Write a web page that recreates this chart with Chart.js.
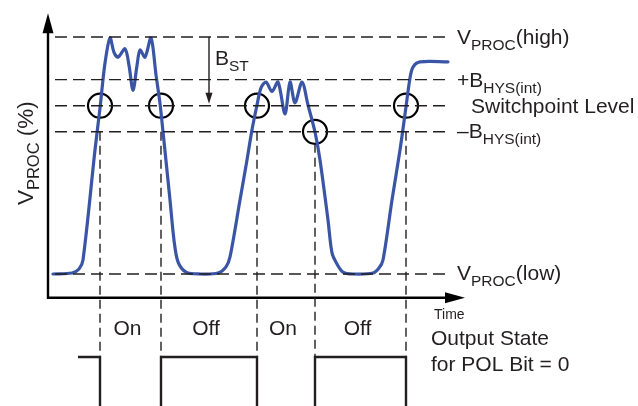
<!DOCTYPE html>
<html><head><meta charset="utf-8">
<script src="https://cdn.jsdelivr.net/npm/chart.js@4.4.1/dist/chart.umd.min.js"></script>
<style>html,body{margin:0;padding:0;background:#fff;overflow:hidden}canvas{display:block}</style>
</head><body>
<canvas id="c" width="638" height="406" style="width:638px;height:406px"></canvas>
<script>
// ---- data (time in arbitrary units, level in % of VPROC range) ----
const curveTime  = [5, 24, 31, 35, 47, 52, 57, 62, 66, 70, 77, 81, 85, 89, 92, 97, 103, 108, 112, 115, 122, 126, 130, 138, 152, 170, 178, 182, 192, 199, 204, 209, 213, 218, 224, 230, 237, 242, 247, 254, 260, 267, 272, 280, 284, 289, 295, 305, 325, 331, 335, 344, 352, 358, 362, 365, 372, 400];
const curveLevel = [0, 0.4, 2.1, 5.9, 52.3, 70.0, 89.0, 99.6, 93.5, 91.5, 95.0, 88.0, 77.5, 88.0, 94.5, 91.5, 99.6, 84.0, 72.0, 60.0, 31.2, 14.3, 5.1, 0.8, 0, 0.4, 3.0, 7.2, 31.2, 48.1, 60.8, 71.3, 78.5, 81.0, 77.0, 81.0, 67.5, 81.0, 72.2, 81.0, 71.3, 59.9, 48.1, 22.8, 8.9, 4.2, 0.8, 0, 0.4, 2.5, 5.9, 31.2, 52.3, 70.5, 82.7, 87.3, 89.5, 89.5];
const levelValues = [100, 82, 71, 60, 0];          // VPROC(high), +BHYS, Switchpoint, -BHYS, VPROC(low)
const switchTimes = [52, 113, 209, 267, 358];
const switchLevels = [71, 71, 71, 60, 71];
const outputStates = ['On', 'Off', 'On', 'Off'];
const outputLevels = [-35, -60, -35, -60, -35, -60]; // output trace level before/after each switch
const outputStart = 30;
const axisLevel = -10;
const bstTop = 100, bstBottom = 71;

// ---- layout constants ----
const X_MIN = -48, X_MAX = 590, Y_MIN = -55.7, Y_MAX = 115.6;
const INK = '#231f20';
const BLUE = '#3a55a5';
const FONT = '"Liberation Sans", Arial, Helvetica, sans-serif';

const lineDash = (y, dash) => ({
  type: 'line', data: [{x: 7, y}, {x: 400, y}], borderColor: INK, borderWidth: 1.4,
  borderDash: dash, pointRadius: 0, tension: 0
});

const datasets = [];
levelValues.forEach(v => datasets.push(lineDash(v, [12, 6])));
// vertical dashed lines from hysteresis band down to output trace
switchTimes.forEach((t, i) => datasets.push({
  type: 'line', data: [{x: t, y: i === 3 ? 55 : 60}, {x: t, y: outputLevels[0]}],
  borderColor: INK, borderWidth: 1.4, borderDash: [9, 5], pointRadius: 0
}));
// output square wave
const sq = [{x: outputStart, y: outputLevels[0]}];
switchTimes.forEach((t, i) => { sq.push({x: t, y: outputLevels[i]}); sq.push({x: t, y: outputLevels[i + 1]}); });
datasets.push({type: 'line', data: sq, borderColor: INK, borderWidth: 2.4, pointRadius: 0, borderJoinStyle: 'miter'});
// axes
datasets.push({type: 'line', data: [{x: 0, y: 103}, {x: 0, y: axisLevel}, {x: 405, y: axisLevel}], borderColor: '#000', borderWidth: 2.4, pointRadius: 0, borderJoinStyle: 'miter'});
// BST arrow shaft
datasets.push({type: 'line', data: [{x: 161, y: bstTop}, {x: 161, y: bstBottom + 3}], borderColor: INK, borderWidth: 1.4, pointRadius: 0});
// process curve
datasets.push({
  type: 'line', data: curveTime.map((t, i) => ({x: t, y: curveLevel[i]})),
  borderColor: BLUE, borderWidth: 3.2, pointRadius: 0, tension: 0.3, borderCapStyle: 'round', borderJoinStyle: 'round'
});
// switch circles
datasets.push({
  type: 'scatter', data: switchTimes.map((t, i) => ({x: t, y: switchLevels[i]})),
  pointRadius: 12, pointBorderWidth: 2.2, pointBorderColor: '#000', pointBackgroundColor: 'rgba(0,0,0,0)', showLine: false
});

function rich(ctx, x, y, parts, size, subSize, subDy, align) {
  let w = 0;
  parts.forEach(p => { ctx.font = (p.sub ? subSize : size) + 'px ' + FONT; w += ctx.measureText(p.t).width; });
  let cx = align === 'center' ? x - w / 2 : x;
  parts.forEach(p => {
    ctx.font = (p.sub ? subSize : size) + 'px ' + FONT;
    ctx.fillText(p.t, cx, y + (p.sub ? subDy : 0));
    cx += ctx.measureText(p.t).width;
  });
}

const annot = {
  id: 'annot',
  afterDatasetsDraw(chart) {
    const {ctx, scales: {x, y}} = chart;
    const X = v => x.getPixelForValue(v), Y = v => y.getPixelForValue(v);
    ctx.save();
    ctx.fillStyle = '#000';
    // y axis arrow
    let ax = X(0), ay = Y(110);
    ctx.beginPath(); ctx.moveTo(ax, ay); ctx.lineTo(ax - 5.5, ay + 20); ctx.lineTo(ax + 5.5, ay + 20); ctx.closePath(); ctx.fill();
    // x axis arrow
    ax = X(417); ay = Y(axisLevel);
    ctx.beginPath(); ctx.moveTo(ax, ay); ctx.lineTo(ax - 20, ay - 5.5); ctx.lineTo(ax - 20, ay + 5.5); ctx.closePath(); ctx.fill();
    // BST arrow head
    ax = X(161); ay = Y(bstBottom + 0.8);
    ctx.fillStyle = INK;
    ctx.beginPath(); ctx.moveTo(ax, ay); ctx.lineTo(ax - 3.5, ay - 11); ctx.lineTo(ax + 3.5, ay - 11); ctx.closePath(); ctx.fill();

    ctx.fillStyle = INK;
    ctx.textBaseline = 'alphabetic';
    const lx = X(409);
    rich(ctx, lx, Y(97), [{t: 'V'}, {t: 'PROC', sub: 1}, {t: '(high)'}], 21, 15.5, 6);
    rich(ctx, lx, Y(78.9), [{t: '+B'}, {t: 'HYS(int)', sub: 1}], 21, 15.5, 6);
    rich(ctx, X(423), Y(67.9), [{t: 'Switchpoint Level'}], 21, 15, 6);
    rich(ctx, lx, Y(57.4), [{t: '\u2013B'}, {t: 'HYS(int)', sub: 1}], 21, 15.5, 6);
    rich(ctx, lx, Y(-2.5), [{t: 'V'}, {t: 'PROC', sub: 1}, {t: '(low)'}], 21, 15.5, 6);
    rich(ctx, X(167), Y(88.2), [{t: 'B'}, {t: 'ST', sub: 1}], 21, 15.5, 6);
    rich(ctx, X(386), Y(-19), [{t: 'Time'}], 14, 14, 0);
    rich(ctx, X(383), Y(-30), [{t: 'Output State'}], 21, 15, 0);
    rich(ctx, X(383), Y(-40.9), [{t: 'for POL Bit = 0'}], 21, 15, 0);
    outputStates.forEach((s, i) => {
      rich(ctx, X((switchTimes[i] + switchTimes[i + 1]) / 2) - 3, Y(-25.7), [{t: s}], 21, 15, 0, 'center');
    });
    // y title
    ctx.translate(X(-15), Y(51));
    ctx.rotate(-Math.PI / 2);
    rich(ctx, 0, 0, [{t: 'V'}, {t: 'PROC', sub: 1}, {t: ' (%)'}], 22.5, 16.5, 6, 'center');
    ctx.restore();
  }
};

new Chart(document.getElementById('c'), {
  type: 'line',
  data: {datasets},
  options: {
    responsive: false, animation: false, events: [],
    layout: {padding: 0, autoPadding: false},
    scales: {
      x: {type: 'linear', min: X_MIN, max: X_MAX, display: false},
      y: {type: 'linear', min: Y_MIN, max: Y_MAX, display: false}
    },
    plugins: {legend: {display: false}, tooltip: {enabled: false}}
  },
  plugins: [annot]
});
</script>
</body></html>
